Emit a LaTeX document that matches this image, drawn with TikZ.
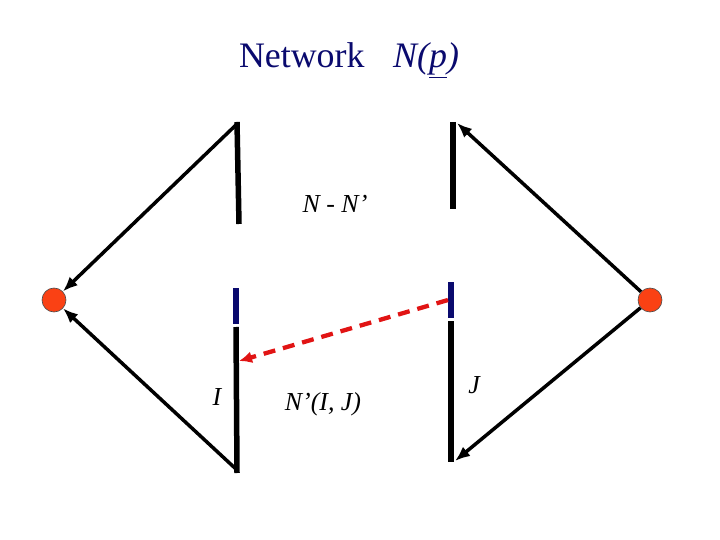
\documentclass[tikz,border=0pt]{standalone}
\usepackage{fontspec}
\setmainfont{Liberation Serif}
\usetikzlibrary{arrows.meta}
\definecolor{navy}{RGB}{10,10,110}
\definecolor{dotred}{RGB}{250,65,20}
\definecolor{dashred}{RGB}{225,20,20}
\tikzset{
  bar/.style={line width=5.5bp, black},
  bluebar/.style={line width=5.5bp, navy},
  conn/.style={line width=3.5bp, -{Latex[length=15bp,width=12bp]}},
  dashconn/.style={line width=4.3bp, dashred, dash pattern=on 12bp off 8bp, -{Latex[length=13bp,width=12bp]}},
  dot/.style={circle, fill=dotred, draw=black!70, line width=0.6bp, minimum size=24bp, inner sep=0pt},
  lbl/.style={font=\fontsize{26}{28}\selectfont\itshape, inner sep=0pt},
}
\begin{document}
\begin{tikzpicture}[x=1bp,y=-1bp]
\useasboundingbox (0,0) rectangle (720,540);
% title
\node[anchor=base, text=navy, font=\fontsize{36}{40}\selectfont, inner sep=0pt] (title) at (349,68) {Network\hspace{0.8em}\textit{N(\underline{p})}};
% circles
\node[dot] (cl) at (54,300) {};
\node[dot] (cr) at (650,300) {};
% bar end points
\coordinate (lut) at (237,122);
\coordinate (lub) at (239,224);
\coordinate (rut) at (453,122);
\coordinate (rub) at (453,209);
\coordinate (lbt) at (236,288);
\coordinate (lbb) at (236,324);
\coordinate (rbt) at (451,282);
\coordinate (rbb) at (451,318);
\coordinate (llt) at (236,327);
\coordinate (llb) at (237,473);
\coordinate (rlt) at (451,321);
\coordinate (rlb) at (451,462);
% bars
\draw[bar] (lut) -- (lub);
\draw[bar] (rut) -- (rub);
\draw[bluebar] (lbt) -- (lbb);
\draw[bluebar] (rbt) -- (rbb);
\draw[bar] (llt) -- (llb);
\draw[bar] (rlt) -- (rlb);
% arrows
\coordinate (a1) at (238,123);
\coordinate (a2) at (237,470);
\coordinate (a3) at (457,123);
\coordinate (a4) at (455,461);
\draw[conn] (a1) -- (cl);
\draw[conn] (a2) -- (cl);
\draw[conn] (cr) -- (a3);
\draw[conn] (cr) -- (a4);
% red dashed arrow
\coordinate (ds) at (448,300);
\coordinate (de) at (239,361);
\draw[dashconn] (ds) -- (de);
% labels
\node[lbl] (nn) at (335,204) {N - N’};
\node[lbl] (li) at (217,397) {I};
\node[lbl] (lnij) at (323,404) {N’(I, J)};
\node[lbl] (lj) at (474,385) {J};
\end{tikzpicture}
\end{document}
